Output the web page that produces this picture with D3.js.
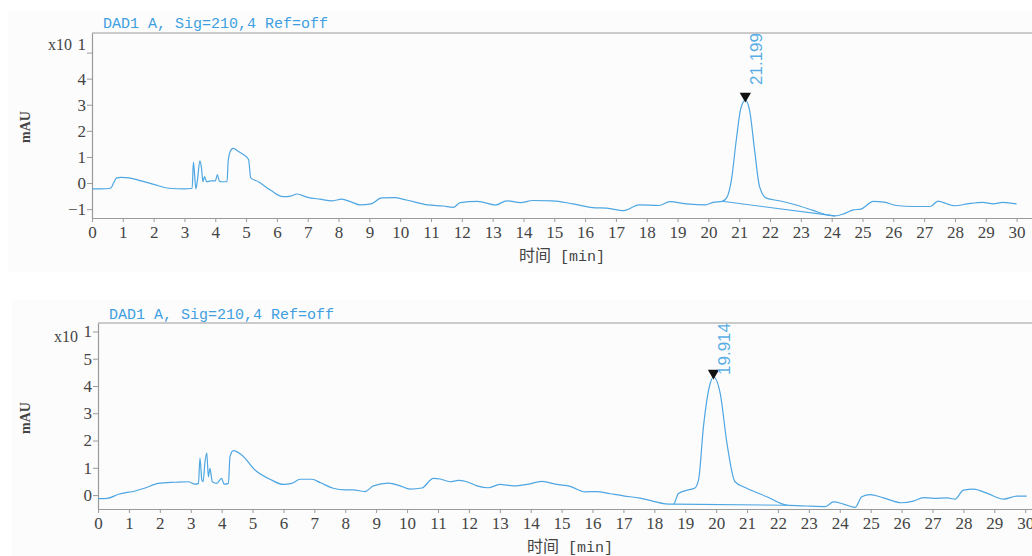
<!DOCTYPE html>
<html>
<head>
<meta charset="utf-8">
<script src="https://cdn.jsdelivr.net/npm/d3@7"></script>
<style>
  html, body { margin: 0; padding: 0; background: #fff; }
  svg { display: block; }
</style>
</head>
<body>
<svg width="1032" height="556"></svg>
<script>
// chromatogram 1 (retention time in min, signal in mAU x10)
const time1 = [0, 0.3, 0.6, 0.72, 0.8, 0.95, 1.2, 1.6, 2.0, 2.5, 3.0, 3.25, 3.29, 3.33, 3.37, 3.42, 3.5, 3.55, 3.6, 3.65,
    3.72, 3.85, 4.0, 4.07, 4.13, 4.2, 4.38, 4.42, 4.5, 4.58, 4.7, 4.9, 5.08, 5.15, 5.4, 5.8, 6.2, 6.45, 6.65, 7.0,
    7.4, 7.8, 8.1, 8.4, 8.7, 9.05, 9.4, 9.8, 10.2, 10.9, 11.4, 11.72, 11.95, 12.5, 13.1, 13.45, 13.9, 14.3, 14.95, 15.6,
    16.25, 16.7, 17.25, 17.75, 18.4, 18.75, 19.3, 19.9, 20.15, 20.45, 20.6, 20.75, 20.9, 21.05, 21.199, 21.34, 21.5, 21.66, 21.88, 22.3,
    22.85, 23.4, 23.85, 24.1, 24.4, 24.7, 24.95, 25.35, 25.7, 26.1, 26.65, 27.2, 27.45, 27.6, 28.0, 28.4, 28.9, 29.25, 29.55, 30.0];
const signal1 = [-0.22, -0.22, -0.2, 0.05, 0.2, 0.22, 0.2, 0.08, -0.05, -0.2, -0.22, -0.2, 0.8, 0.3, -0.22, 0.1, 0.85, 0.6, 0.05, 0.25,
    0.05, 0.08, 0.08, 0.32, 0.08, 0.05, 0.05, 0.85, 1.25, 1.33, 1.25, 1.1, 0.9, 0.2, 0.05, -0.28, -0.52, -0.5, -0.42, -0.55,
    -0.62, -0.68, -0.62, -0.72, -0.84, -0.8, -0.57, -0.56, -0.65, -0.84, -0.88, -0.93, -0.75, -0.7, -0.84, -0.68, -0.75, -0.67, -0.68, -0.8,
    -0.94, -0.96, -1.06, -0.84, -0.86, -0.71, -0.8, -0.84, -0.74, -0.7, -0.55, 0.14, 1.6, 2.85, 3.18, 2.77, 1.25, -0.14, -0.58, -0.68,
    -0.84, -1.05, -1.22, -1.26, -1.18, -1.03, -1.0, -0.7, -0.73, -0.86, -0.9, -0.9, -0.69, -0.74, -0.87, -0.8, -0.74, -0.8, -0.74, -0.8];
const baseline1 = [[20.45, -0.7], [24.1, -1.26]];
const peak1 = { time: 21.199, value: 3.18, label: '21.199' };

// chromatogram 2
const time2 = [0, 0.3, 0.66, 1.2, 1.5, 1.95, 2.5, 2.92, 3.14, 3.25, 3.3, 3.36, 3.4, 3.46, 3.52, 3.57, 3.62, 3.7, 3.84, 4.0,
    4.08, 4.22, 4.27, 4.38, 4.65, 5.08, 5.62, 6.0, 6.27, 6.54, 6.92, 7.2, 7.61, 8.0, 8.26, 8.64, 8.91, 9.4, 9.77, 10.1,
    10.48, 10.85, 11.07, 11.39, 11.66, 11.93, 12.26, 12.63, 13.0, 13.44, 13.87, 14.36, 14.84, 15.28, 15.76, 16.14, 16.57, 17.0, 17.54, 17.97,
    18.35, 18.62, 18.78, 19.1, 19.3, 19.43, 19.59, 19.81, 19.914, 20.13, 20.35, 20.61, 20.99, 21.64, 22.29, 22.93, 23.53, 23.8, 24.12, 24.5,
    24.71, 24.98, 25.41, 26.0, 26.38, 26.71, 27.03, 27.47, 27.73, 28.0, 28.33, 28.76, 29.3, 29.73, 30.05];
const signal2 = [-0.13, -0.12, 0.03, 0.15, 0.25, 0.43, 0.47, 0.49, 0.4, 0.43, 1.36, 0.55, 0.49, 1.2, 1.55, 0.67, 0.98, 0.49, 0.43, 0.61,
    0.4, 0.43, 1.41, 1.63, 1.47, 0.92, 0.55, 0.39, 0.43, 0.58, 0.58, 0.45, 0.25, 0.19, 0.19, 0.13, 0.34, 0.44, 0.34, 0.22,
    0.26, 0.61, 0.59, 0.49, 0.54, 0.49, 0.34, 0.27, 0.39, 0.34, 0.39, 0.5, 0.39, 0.32, 0.12, 0.13, 0.05, -0.03, -0.11, -0.23,
    -0.32, -0.33, 0.06, 0.19, 0.25, 0.55, 2.51, 4.1, 4.33, 3.74, 1.9, 0.49, 0.25, -0.06, -0.37, -0.4, -0.42, -0.25, -0.33, -0.45,
    -0.06, 0.02, -0.1, -0.28, -0.22, -0.09, -0.12, -0.1, -0.15, 0.18, 0.22, 0.07, -0.15, -0.04, -0.04];
const baseline2 = [[18.62, -0.33], [22.3, -0.37]];
const peak2 = { time: 19.914, value: 4.33, label: '19.914' };

const xTicks = d3.range(0, 31);
const yTicks1 = [-1, 0, 1, 2, 3, 4, 5];
const yTicks2 = [0, 1, 2, 3, 4, 5, 6];
const titleText = 'DAD1 A, Sig=210,4 Ref=off';
const xTitleCn = '时间';
const xTitleUnit = ' [min]';
const yTitle = 'mAU';

const lineColor = '#4ea6e2';
const axisColor = '#9a9a9a';
const textColor = '#444';
const tickFont = '"Liberation Serif", "DejaVu Serif", serif';

const svg = d3.select('svg');

const drawPanel = (cfg) => {
    const { time, signal, baseline, peak, yTicks } = cfg;
    const points = time.map((t, i) => [t, signal[i]]);

    const x = d3.scaleLinear().domain([0, cfg.xMax]).range([cfg.left, 1032]);
    const y = d3.scaleLinear().domain(cfg.yDomain).range([cfg.bottom, cfg.top]);

    svg.append('rect')
        .attr('x', cfg.bgX).attr('y', cfg.bgY)
        .attr('width', 1032 - cfg.bgX).attr('height', cfg.bgH)
        .attr('fill', '#fcfcfc');

    const g = svg.append('g');

    // box top edge
    g.append('line')
        .attr('x1', cfg.left).attr('x2', 1032)
        .attr('y1', cfg.top).attr('y2', cfg.top)
        .attr('stroke', axisColor).attr('stroke-width', 1.2);

    const topTick = yTicks[yTicks.length - 1];
    const yAxis = g.append('g')
        .attr('transform', `translate(${cfg.left},0)`)
        .call(d3.axisLeft(y).tickValues(yTicks).tickSize(5).tickSizeOuter(0).tickPadding(1)
            .tickFormat(d => d === topTick ? '1' : (d < 0 ? '\u2212' + Math.abs(d) : d)));

    const xAxis = g.append('g')
        .attr('transform', `translate(0,${cfg.bottom})`)
        .call(d3.axisBottom(x).tickValues(xTicks).tickSize(4).tickSizeOuter(0).tickPadding(4));

    [yAxis, xAxis].forEach(a => {
        a.select('.domain').attr('stroke', axisColor).attr('stroke-width', 1.2);
        a.selectAll('.tick line').attr('stroke', axisColor);
        a.selectAll('.tick text')
            .attr('fill', textColor)
            .style('font-family', tickFont)
            .style('font-size', '17px');
    });
    yAxis.selectAll('.tick text')
        .filter(d => d === topTick)
        .attr('dy', cfg.expDy);

    g.append('text')
        .attr('x', cfg.left - 20).attr('y', cfg.x10Y)
        .attr('text-anchor', 'end')
        .attr('fill', textColor)
        .style('font-family', tickFont).style('font-size', '16px')
        .text('x10');

    g.append('text')
        .attr('transform', `translate(${cfg.yTitleX},${cfg.yTitleY}) rotate(-90)`)
        .attr('text-anchor', 'middle')
        .attr('fill', textColor)
        .style('font-family', tickFont).style('font-size', '14px').style('font-weight', 'bold')
        .text(yTitle);

    const xt = g.append('text')
        .attr('x', cfg.xTitleX).attr('y', cfg.xTitleY)
        .attr('text-anchor', 'middle')
        .attr('fill', textColor)
        .style('font-family', '"Noto Sans CJK SC", sans-serif').style('font-size', '16px');
    xt.append('tspan').text(xTitleCn);
    xt.append('tspan')
        .style('font-family', '"Liberation Mono", monospace').style('font-size', '15px')
        .text(xTitleUnit);

    g.append('text')
        .attr('x', cfg.titleX).attr('y', cfg.titleY)
        .attr('fill', '#3f9fe0')
        .style('font-family', '"Liberation Mono", monospace').style('font-size', '15px')
        .text(titleText);

    // integration baseline
    g.append('path')
        .datum(baseline)
        .attr('d', d3.line().x(d => x(d[0])).y(d => y(d[1])))
        .attr('fill', 'none').attr('stroke', lineColor).attr('stroke-width', 1.1);

    g.append('path')
        .datum(points)
        .attr('d', d3.line().x(d => x(d[0])).y(d => y(d[1])).curve(d3.curveMonotoneX))
        .attr('fill', 'none').attr('stroke', lineColor).attr('stroke-width', 1.2);

    // peak marker and retention time
    const px = x(peak.time);
    const py = y(peak.value);
    g.append('path')
        .attr('d', d3.symbol(d3.symbolTriangle, 55))
        .attr('transform', `translate(${px},${py - 4}) rotate(180)`)
        .attr('fill', '#111');

    g.append('text')
        .attr('transform', `translate(${px + 17},${cfg.top}) rotate(-90)`)
        .attr('text-anchor', 'end')
        .attr('fill', '#5aaee6')
        .style('font-family', '"Liberation Sans", Arial, sans-serif').style('font-size', '17px')
        .text(peak.label);
};

drawPanel({
    time: time1, signal: signal1, baseline: baseline1, peak: peak1, yTicks: yTicks1,
    left: 92, top: 33, bottom: 218, xMax: 30.5, yDomain: [-1.34, 5.75],
    expDy: '-0.2em', x10Y: 50,
    yTitleX: 30, yTitleY: 127, xTitleX: 562, xTitleY: 261,
    titleX: 103, titleY: 28,
    bgX: 8, bgY: 10, bgH: 262
});

drawPanel({
    time: time2, signal: signal2, baseline: baseline2, peak: peak2, yTicks: yTicks2,
    left: 98, top: 323, bottom: 509, xMax: 30.22, yDomain: [-0.51, 6.31],
    expDy: '0.32em', x10Y: 342,
    yTitleX: 30, yTitleY: 418, xTitleX: 570, xTitleY: 552,
    titleX: 109, titleY: 319,
    bgX: 12, bgY: 300, bgH: 256
});
</script>
</body>
</html>
